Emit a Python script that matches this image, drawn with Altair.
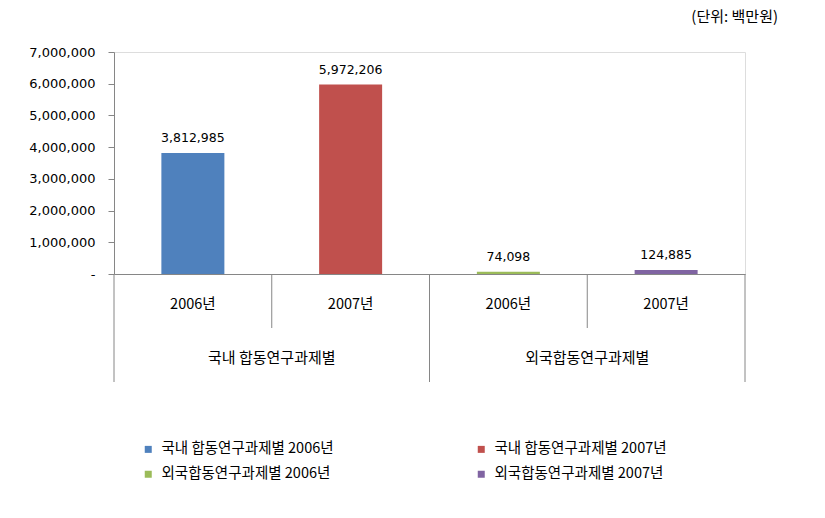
import altair as alt
import pandas as pd

groups = ["국내 합동연구과제별", "국내 합동연구과제별", "외국합동연구과제별", "외국합동연구과제별"]
years = ["2006년", "2007년", "2006년", "2007년"]
values = [3812985, 5972206, 74098, 124885]
colors = ["#4F81BD", "#C0504D", "#9BBB59", "#8064A2"]
y_ticks = [0, 1000000, 2000000, 3000000, 4000000, 5000000, 6000000, 7000000]
unit_label = "(단위:  백만원)"

series = [f"{g} {y}" for g, y in zip(groups, years)]
df = pd.DataFrame({
    "series": series,
    "group": groups,
    "year": years,
    "value": values,
    "idx": list(range(len(series))),
})

KR = "Noto Sans CJK KR"
NUM = "DejaVu Sans"
GRAY = "#868686"

W, H = 631, 222

xscale = alt.Scale(domain=series, paddingInner=0, paddingOuter=0)
yscale = alt.Scale(domain=[0, 7000000], nice=False)

y_axis = alt.Axis(values=y_ticks, title=None, grid=False,
                  labelExpr="datum.value == 0 ? '-' : format(datum.value, ',')",
                  labelFont=NUM, labelFontSize=13, labelColor="#000000",
                  labelOverlap=False, labelFlush=False,
                  labelPadding=13, tickSize=6, tickColor=GRAY,
                  domainColor=GRAY)
x_axis = alt.Axis(labels=False, ticks=False, title=None,
                  domainColor=GRAY, domainWidth=1, grid=False)

base = alt.Chart(df)

bars = base.mark_bar(size=63).encode(
    x=alt.X("series:N", scale=xscale, sort=series, axis=x_axis),
    y=alt.Y("value:Q", scale=yscale, axis=y_axis),
    color=alt.Color("series:N",
                    scale=alt.Scale(domain=series, range=colors),
                    legend=alt.Legend(orient="none", legendX=27, legendY=390,
                                      columns=2, direction="horizontal",
                                      columnPadding=140, rowPadding=10,
                                      symbolType="square", symbolSize=49,
                                      symbolStrokeWidth=0, labelFont=KR,
                                      labelFontSize=14.5, labelColor="#000000",
                                      labelLimit=400,
                                      labelOffset=6, padding=0, title=None)),
)

value_labels = base.mark_text(baseline="bottom", dy=-8, font=NUM, fontSize=12.5,
                              color="#000000").encode(
    x=alt.X("series:N", scale=xscale, sort=series, axis=x_axis),
    y=alt.Y("value:Q", scale=yscale, axis=y_axis),
    text=alt.Text("value:Q", format=","),
)

# separators on the two-level category axis
group_left = base.mark_rule(color=GRAY, strokeWidth=1).encode(
    x=alt.X("series:N", scale=xscale, sort=series, bandPosition=0, axis=x_axis),
    y=alt.value(H), y2=alt.value(H + 108),
).transform_filter("datum.idx == 0 || datum.idx == 2")

year_left = base.mark_rule(color=GRAY, strokeWidth=1).encode(
    x=alt.X("series:N", scale=xscale, sort=series, bandPosition=0, axis=x_axis),
    y=alt.value(H), y2=alt.value(H + 54),
).transform_filter("datum.idx == 1 || datum.idx == 3")

right_edge = base.mark_rule(color=GRAY, strokeWidth=1).encode(
    x=alt.X("series:N", scale=xscale, sort=series, bandPosition=1, axis=x_axis),
    y=alt.value(H), y2=alt.value(H + 108),
).transform_filter("datum.idx == 3")

year_text = base.mark_text(font=KR, fontSize=14.5, color="#000000").encode(
    x=alt.X("series:N", scale=xscale, sort=series, axis=x_axis),
    y=alt.value(H + 31),
    text="year:N",
)

group_text = base.mark_text(font=KR, fontSize=15, color="#000000").encode(
    x=alt.X("series:N", scale=xscale, sort=series, bandPosition=1, axis=x_axis),
    y=alt.value(H + 84),
    text="group:N",
).transform_filter("datum.idx == 0 || datum.idx == 2")

unit = alt.Chart(pd.DataFrame({"t": [unit_label]})).mark_text(
    font=KR, fontSize=15, align="right", color="#000000"
).encode(x=alt.value(664), y=alt.value(-35), text="t:N")

chart = alt.layer(
    bars, value_labels, group_left, year_left, right_edge, year_text, group_text, unit
).properties(
    width=W, height=H,
    autosize=alt.AutoSizeParams(type="none"),
    padding={"left": 114, "top": 52, "right": 80, "bottom": 244},
).configure_view(stroke=None).configure(background="#ffffff")

chart.save("out.html", embed_options={"renderer": "svg", "actions": False})
